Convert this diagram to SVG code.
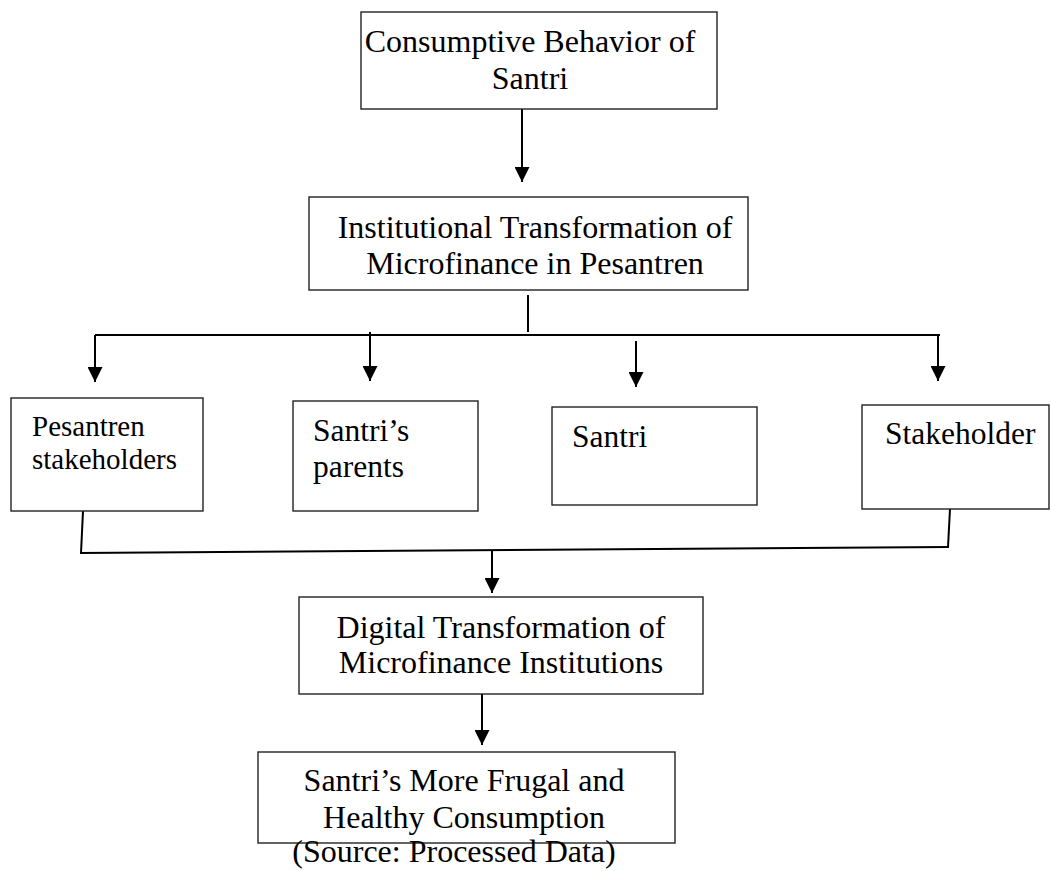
<svg xmlns="http://www.w3.org/2000/svg" width="1050" height="871" viewBox="0 0 1050 871">
<style>
.box{fill:#fff;stroke:#222;stroke-width:1.4}
.t{font-family:"Liberation Serif","Times New Roman",serif;font-size:32px;fill:#000}
.c{text-anchor:middle}
.ln{stroke:#000;stroke-width:2;fill:none}
</style>
<defs>
<marker id="ah" viewBox="0 0 15 15" refX="15" refY="7.5" markerWidth="15" markerHeight="15" markerUnits="userSpaceOnUse" orient="auto">
<path d="M0,0 L15,7.5 L0,15 z" fill="#000"/>
</marker>
</defs>
<rect width="1050" height="871" fill="#fff"/>
<g id="connectors">
<line class="ln" x1="522" y1="109" x2="522" y2="182" marker-end="url(#ah)"/>
<line class="ln" x1="528" y1="295" x2="528" y2="332"/>
<line class="ln" x1="95" y1="335" x2="940" y2="335"/>
<line class="ln" x1="95" y1="335" x2="95" y2="382" marker-end="url(#ah)"/>
<line class="ln" x1="370" y1="332" x2="370" y2="381" marker-end="url(#ah)"/>
<line class="ln" x1="636" y1="341" x2="636" y2="387" marker-end="url(#ah)"/>
<line class="ln" x1="938" y1="335" x2="938" y2="381" marker-end="url(#ah)"/>
<line class="ln" x1="83" y1="511" x2="81" y2="553"/>
<line class="ln" x1="80" y1="553" x2="949" y2="547"/>
<line class="ln" x1="950" y1="509" x2="948" y2="547"/>
<line class="ln" x1="492" y1="550" x2="492" y2="593" marker-end="url(#ah)"/>
<line class="ln" x1="482" y1="694" x2="482" y2="745" marker-end="url(#ah)"/>
</g>
<g id="n1">
<rect class="box" x="361" y="12" width="356" height="97"/>
<text class="t c" x="530" y="52">Consumptive Behavior of</text>
<text class="t c" x="530" y="89">Santri</text>
</g>
<g id="n2">
<rect class="box" x="309" y="197" width="439" height="93"/>
<text class="t c" x="535" y="238">Institutional Transformation of</text>
<text class="t c" x="535" y="274">Microfinance in Pesantren</text>
</g>
<g id="n3">
<rect class="box" x="11" y="398" width="192" height="113"/>
<text class="t" x="32" y="436" style="font-size:29px">Pesantren</text>
<text class="t" x="32" y="469" style="font-size:29px">stakeholders</text>
</g>
<g id="n4">
<rect class="box" x="293" y="401" width="185" height="110"/>
<text class="t" x="313" y="441" style="font-size:31.5px">Santri’s</text>
<text class="t" x="313" y="477" style="font-size:31.5px">parents</text>
</g>
<g id="n5">
<rect class="box" x="552" y="407" width="205" height="98"/>
<text class="t" x="572" y="447" style="font-size:31.5px">Santri</text>
</g>
<g id="n6">
<rect class="box" x="862" y="405" width="187" height="104"/>
<text class="t" x="885" y="444" style="font-size:31.5px">Stakeholder</text>
</g>
<g id="n7">
<rect class="box" x="299" y="597" width="404" height="97"/>
<text class="t c" x="501" y="638">Digital Transformation of</text>
<text class="t c" x="501" y="673">Microfinance Institutions</text>
</g>
<g id="n8">
<rect class="box" x="258" y="752" width="417" height="91"/>
<text class="t c" x="464" y="791">Santri’s More Frugal and</text>
<text class="t c" x="464" y="828">Healthy Consumption</text>
</g>
<text class="t c" x="454" y="862">(Source: Processed Data)</text>
</svg>
